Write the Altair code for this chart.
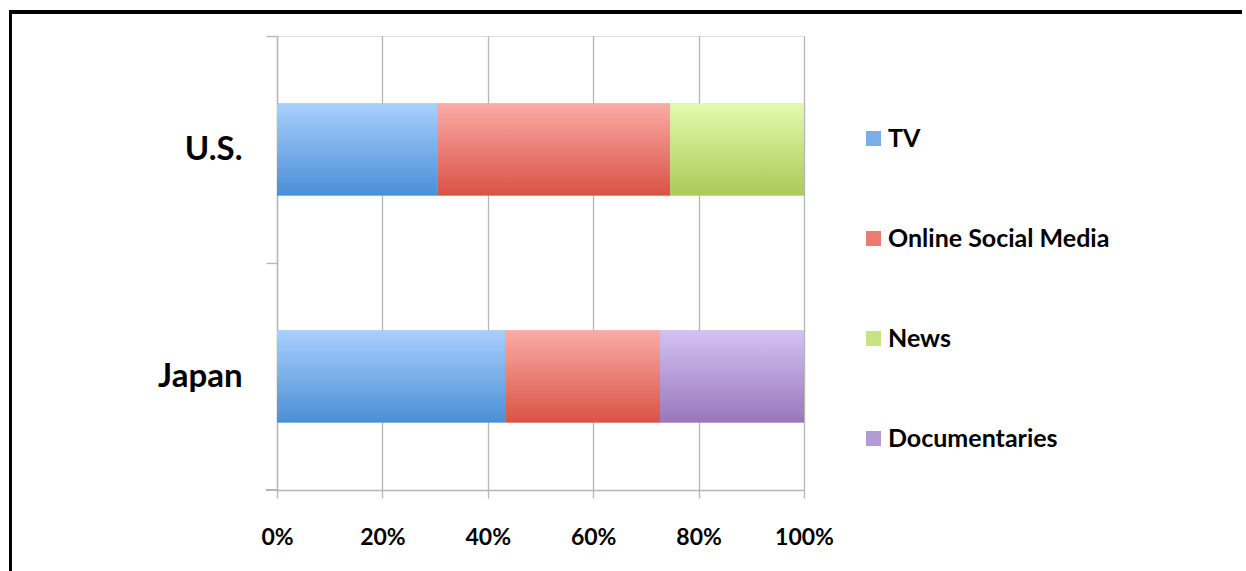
import altair as alt
import pandas as pd

countries = ["U.S.", "Japan"]
categories = ["TV", "Online Social Media", "News", "Documentaries"]
us_values = {"TV": 30.5, "Online Social Media": 44.1, "News": 25.4}
japan_values = {"TV": 43.3, "Online Social Media": 29.4, "Documentaries": 27.3}

flat_colors = ["#7aaeea", "#ec7b72", "#c6e47f", "#b59ad8"]
grad_top = ["#aacffd", "#fbaba6", "#e2fbac", "#d4c2f2"]
grad_bottom = ["#4a8fd6", "#da5246", "#a9cb58", "#9877bc"]

rows = []
for country, vals in [("U.S.", us_values), ("Japan", japan_values)]:
    total = sum(vals.values())
    start = 0.0
    for cat in categories:
        if cat in vals:
            share = vals[cat] / total
            rows.append({"country": country, "category": cat,
                         "start": start, "end": start + share})
            start += share
df = pd.DataFrame(rows)

FONT = "Lato"

x_enc = alt.X("start:Q", scale=alt.Scale(domain=[0, 1], nice=False),
              axis=alt.Axis(format="%", values=[0, 0.2, 0.4, 0.6, 0.8, 1.0],
                            title=None, grid=True, gridColor="#b5b5b5", gridWidth=1.3,
                            domainColor="#b5b5b5", domainWidth=1.3,
                            tickColor="#b5b5b5", tickWidth=1.3, tickSize=8,
                            labelFont=FONT, labelFontSize=23, labelFontWeight="bold",
                            labelColor="black", labelPadding=28, labelFlush=False))
y_enc = alt.Y("country:N", sort=countries,
              scale=alt.Scale(paddingInner=0, paddingOuter=0),
              axis=alt.Axis(title=None, grid=False, bandPosition=0,
                            domainColor="#b5b5b5", domainWidth=1.3,
                            tickColor="#b5b5b5", tickWidth=1.3, tickSize=11,
                            labelFont=FONT, labelFontSize=33, labelFontWeight="bold",
                            labelColor="black", labelPadding=24))

base = alt.Chart(df).mark_bar(size=92).encode(
    x=x_enc, x2="end:Q", y=y_enc,
    color=alt.Color("category:N",
                    scale=alt.Scale(domain=categories, range=flat_colors),
                    legend=alt.Legend(title=None, orient="none", legendX=584, legendY=90,
                                      symbolType="square", symbolSize=225,
                                      symbolStrokeWidth=0, rowPadding=74,
                                      labelFont=FONT, labelFontSize=25,
                                      labelFontWeight="bold", labelColor="black",
                                      labelOffset=2, labelLimit=0, padding=0)),
)

layers = [base]
for i, cat in enumerate(categories):
    grad = alt.Gradient(gradient="linear",
                        stops=[alt.GradientStop(color=grad_top[i], offset=0),
                               alt.GradientStop(color=grad_bottom[i], offset=1)],
                        x1=0, x2=0, y1=0, y2=1)
    layers.append(
        alt.Chart(df).transform_filter(alt.datum.category == cat)
        .mark_bar(size=92, color=grad)
        .encode(x="start:Q", x2="end:Q", y=alt.Y("country:N", sort=countries))
    )

# extend the bottom axis line to the left, like the category tick
ext = alt.Chart(df).mark_rule(color="#b5b5b5", strokeWidth=1.3).encode(
    x=alt.value(-11), x2=alt.value(0), y=alt.value(454))
# frame (top and left edges)
frame_top = alt.Chart(df).mark_rule(color="black", strokeWidth=3).encode(
    x=alt.value(-266.5), x2=alt.value(965), y=alt.value(-24))
frame_left = alt.Chart(df).mark_rule(color="black", strokeWidth=3).encode(
    x=alt.value(-266.5), y=alt.value(-25.5), y2=alt.value(560))

chart = alt.layer(*layers, ext, frame_top, frame_left).properties(
    width=527, height=454,
    padding={"left": 277, "top": 36, "right": 442, "bottom": 81},
    autosize="none",
).configure_view(stroke=None).configure(background="white")

chart.save("out.html", embed_options={"renderer": "svg", "actions": False})
